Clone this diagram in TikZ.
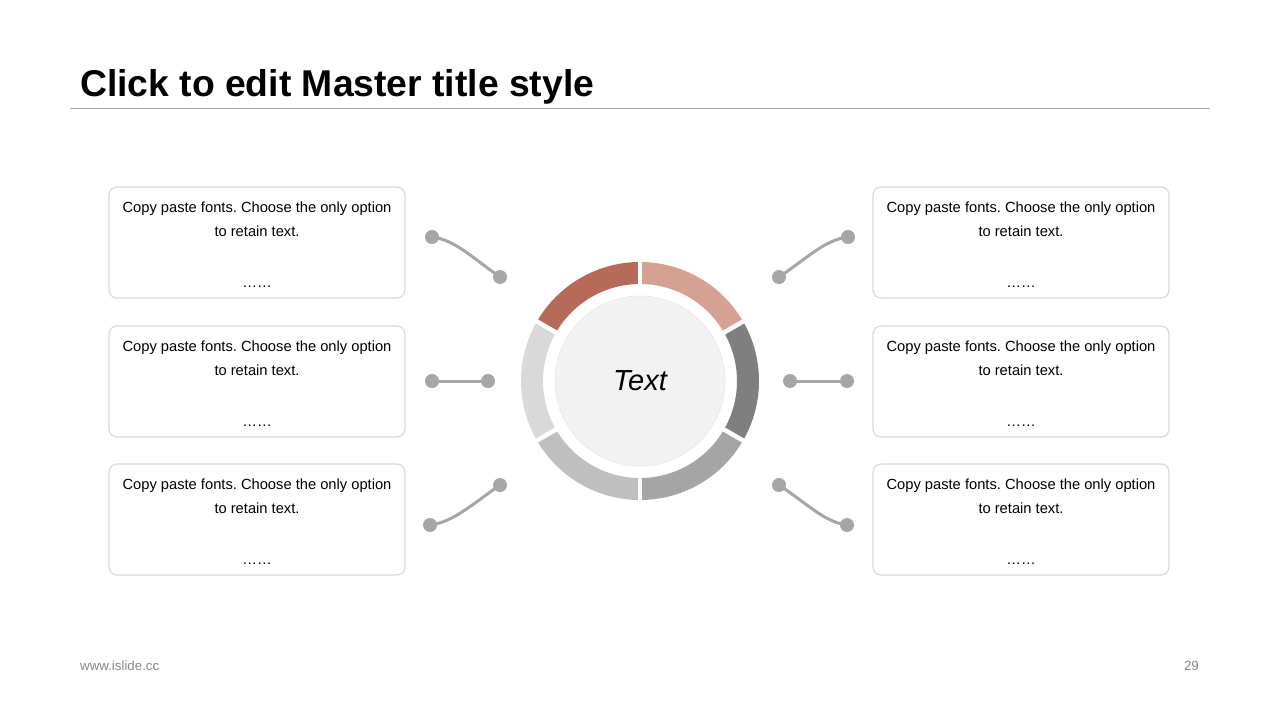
\documentclass[tikz,border=0pt]{standalone}
\usepackage{fontspec}
\setmainfont{Liberation Sans}
\usetikzlibrary{calc}
\frenchspacing
\begin{document}
\begin{tikzpicture}[x=1pt,y=1pt,
  box/.style={draw=boxgray,line width=1.2pt,rounded corners=8pt,minimum width=296pt,minimum height=111pt,fill=white},
  btext/.style={font=\fontsize{14.7}{17}\selectfont,inner sep=0pt,anchor=base},
  dot/.style={circle,fill=linegray,minimum size=14pt,inner sep=0pt},
  conn/.style={draw=linegray,line width=3pt,line cap=round},
  gapline/.style={white,line width=4.5pt}]
\definecolor{boxgray}{HTML}{D9D9D9}
\definecolor{linegray}{HTML}{A6A6A6}
\definecolor{segA}{HTML}{B76A58}
\definecolor{segB}{HTML}{D4A193}
\definecolor{segC}{HTML}{7F7F7F}
\definecolor{segD}{HTML}{A5A5A5}
\definecolor{segE}{HTML}{BFBFBF}
\definecolor{segF}{HTML}{D9D9D9}
\definecolor{innerfill}{HTML}{F2F2F2}
\definecolor{footgray}{HTML}{898989}
\useasboundingbox[fill=white] (0,0) rectangle (1280,-720);

% title
\node[anchor=base west,inner sep=0pt,font=\fontsize{37.3}{40}\selectfont\bfseries] (title) at (80,-96) {Click to edit Master title style};
\coordinate (tl1) at (70,-108);
\coordinate (tl2) at (1210,-108);
\draw[linegray,line width=1pt] (tl1) -- (tl2);

% footer
\node[anchor=base west,inner sep=0pt,font=\fontsize{13.3}{15}\selectfont,text=footgray] (foot) at (80,-670) {www.islide.cc};
\node[anchor=base east,inner sep=0pt,font=\fontsize{13.3}{15}\selectfont,text=footgray] (page) at (1199,-670) {29};

% ring
\coordinate (c) at (640,-381);
\def\Ro{119}\def\Ri{97}
\foreach \a/\col in {90/segA,30/segB,-30/segC,-90/segD,-150/segE,150/segF}{
  \fill[\col] ($(c)+(\a:\Ro)$) arc[start angle=\a,end angle=\a+60,radius=\Ro]
    -- ($(c)+(\a+60:\Ri)$) arc[start angle=\a+60,end angle=\a,radius=\Ri] -- cycle;
}
\foreach \a in {30,90,150,210,270,330}{
  \draw[gapline] ($(c)+(\a:90)$) -- ($(c)+(\a:125)$);
}
\node[circle,fill=innerfill,draw=boxgray!60,line width=0.6pt,minimum size=170pt,inner sep=0pt] (center) at (c) {};
\node[font=\fontsize{29}{32}\selectfont\itshape,inner sep=0pt] (ctext) at (640,-381) {Text};

% boxes
\foreach \nm/\x/\y in {L1/257/-242.5,L2/257/-381.5,L3/257/-519.5,R1/1021/-242.5,R2/1021/-381.5,R3/1021/-519.5}{
  \node[box] (\nm) at (\x,\y) {};
  \node[btext] (\nm a) at ([yshift=-26]\nm.north) {Copy paste fonts. Choose the only option};
  \node[btext] (\nm b) at ([yshift=-50]\nm.north) {to retain text.};
  \node[btext] (\nm c) at ([yshift=11]\nm.south) {……};
}

% dots
\node[dot] (a1) at (432,-237) {};
\node[dot] (a2) at (500,-277) {};
\node[dot] (b1) at (432,-381) {};
\node[dot] (b2) at (488,-381) {};
\node[dot] (e1) at (430,-525) {};
\node[dot] (e2) at (500,-485) {};
\node[dot] (f1) at (848,-237) {};
\node[dot] (f2) at (779,-277) {};
\node[dot] (g1) at (847,-381) {};
\node[dot] (g2) at (790,-381) {};
\node[dot] (h1) at (847,-525) {};
\node[dot] (h2) at (779,-485) {};

% connectors
\draw[conn] (a1.center) .. controls (455,-240) and (470,-256) .. (a2.center);
\draw[conn] (b1.center) -- (b2.center);
\draw[conn] (e1.center) .. controls (453,-522) and (470,-506) .. (e2.center);
\draw[conn] (f1.center) .. controls (825,-240) and (810,-256) .. (f2.center);
\draw[conn] (g1.center) -- (g2.center);
\draw[conn] (h1.center) .. controls (825,-522) and (810,-506) .. (h2.center);
\end{tikzpicture}
\end{document}
